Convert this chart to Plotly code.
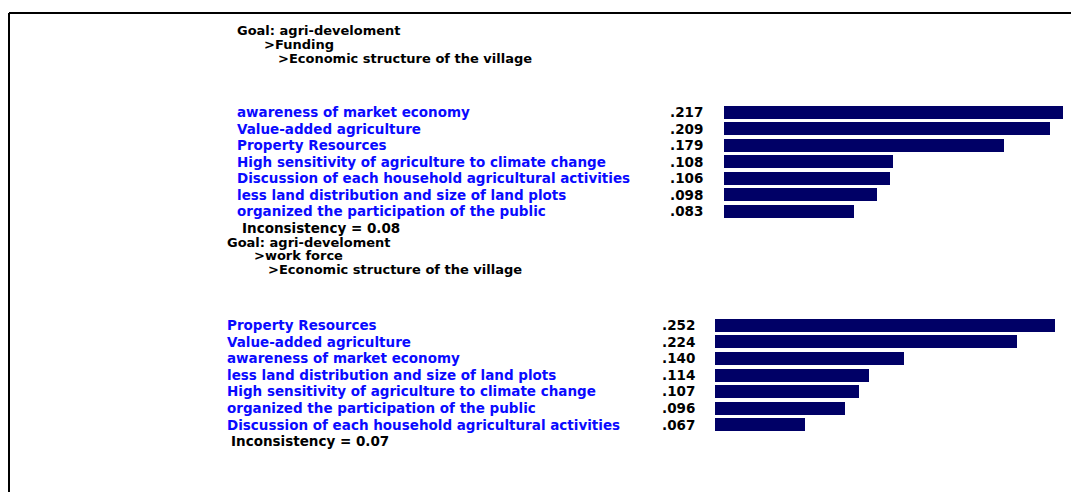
import plotly.graph_objects as go

W, H = 1072, 492

# ---- data ----
goal = "Goal: agri-develoment"
parent = "Economic structure of the village"

p1_node = "Funding"
p1_labels = [
    "awareness of market economy",
    "Value-added agriculture",
    "Property Resources",
    "High sensitivity of agriculture to climate change",
    "Discussion of each household agricultural activities",
    "less land distribution and size of land plots",
    "organized the participation of the public",
]
p1_values = [0.217, 0.209, 0.179, 0.108, 0.106, 0.098, 0.083]
p1_incons = 0.08

p2_node = "work force"
p2_labels = [
    "Property Resources",
    "Value-added agriculture",
    "awareness of market economy",
    "less land distribution and size of land plots",
    "High sensitivity of agriculture to climate change",
    "organized the participation of the public",
    "Discussion of each household agricultural activities",
]
p2_values = [0.252, 0.224, 0.140, 0.114, 0.107, 0.096, 0.067]
p2_incons = 0.07

BAR = "#000066"
LBL = "#0a0aff"
FONT = "DejaVu Sans"
FS = 13.5


def px(x):
    # screen pixel -> paper
    return x / W


def py(y):
    return 1 - y / H


def fmt(v):
    return ("%.3f" % v)[1:]


# panel geometry in screen pixels (heads = y of the three header lines)
panels = [
    dict(node=p1_node, labels=p1_labels, values=p1_values, incons=p1_incons,
         xa="x", ya="y", left=237, val_right=703, bar0=724, scale=1562,
         row0=112, step=16.5, heads=[31, 45, 59], incons_x=242),
    dict(node=p2_node, labels=p2_labels, values=p2_values, incons=p2_incons,
         xa="x2", ya="y2", left=227, val_right=695, bar0=715, scale=1349,
         row0=325, step=16.6, heads=[242, 255.5, 269.5], incons_x=231),
]

fig = go.Figure()
ann = []
layout_axes = {}


def txt(x, y, t, color="black", anchor="left", yref="paper", size=FS):
    return dict(x=x, y=y, xref="paper", yref=yref, text="<b>%s</b>" % t,
                showarrow=False, xanchor=anchor, yanchor="middle",
                borderpad=0, borderwidth=0,
                font=dict(color=color, size=size, family=FONT))


for i, p in enumerate(panels):
    n = len(p["labels"])
    idx = list(range(n))
    fig.add_trace(go.Bar(
        x=p["values"], y=idx, orientation="h",
        marker=dict(color=BAR, line=dict(width=0)),
        width=0.78, xaxis=p["xa"], yaxis=p["ya"],
        hoverinfo="skip", showlegend=False,
    ))
    top = p["row0"] - p["step"] / 2
    bot = p["row0"] + p["step"] * (n - 0.5)
    suffix = "" if i == 0 else str(i + 1)
    layout_axes["xaxis" + suffix] = dict(
        domain=[px(p["bar0"]), 1], range=[0, (W - p["bar0"]) / p["scale"]],
        visible=False, fixedrange=True, anchor=p["ya"],
    )
    layout_axes["yaxis" + suffix] = dict(
        domain=[py(bot), py(top)], range=[n - 0.5, -0.5],
        visible=False, fixedrange=True, anchor=p["xa"],
    )
    for j, (lab, v) in enumerate(zip(p["labels"], p["values"])):
        ann.append(txt(px(p["left"]), j, lab, LBL, "left", p["ya"]))
        ann.append(txt(px(p["val_right"]), j, fmt(v), "black", "right", p["ya"]))
    # header lines (tight, as in the original)
    lines = [goal, ">" + p["node"], ">" + parent]
    for t, dx, y in zip(lines, [0, 27, 41], p["heads"]):
        ann.append(txt(px(p["left"] + dx), py(y), t, size=13))
    ann.append(txt(px(p["incons_x"]), py(p["row0"] + p["step"] * n),
                   "Inconsistency = %.2f" % p["incons"]))

fig.update_layout(
    width=W, height=H,
    margin=dict(l=0, r=0, t=0, b=0),
    paper_bgcolor="white", plot_bgcolor="white",
    annotations=ann,
    shapes=[
        dict(type="line", xref="paper", yref="paper",
             x0=px(9), x1=px(1071), y0=py(13), y1=py(13),
             line=dict(color="black", width=2)),
        dict(type="line", xref="paper", yref="paper",
             x0=px(9), x1=px(9), y0=py(13), y1=0,
             line=dict(color="black", width=2)),
    ],
    bargap=0,
    **layout_axes,
)

# drop the default page margin so the figure fills the window
fig.write_html(
    "out.html",
    config=dict(displayModeBar=False),
    post_script="document.body.style.margin='0';"
                "document.body.style.overflow='hidden';",
)
